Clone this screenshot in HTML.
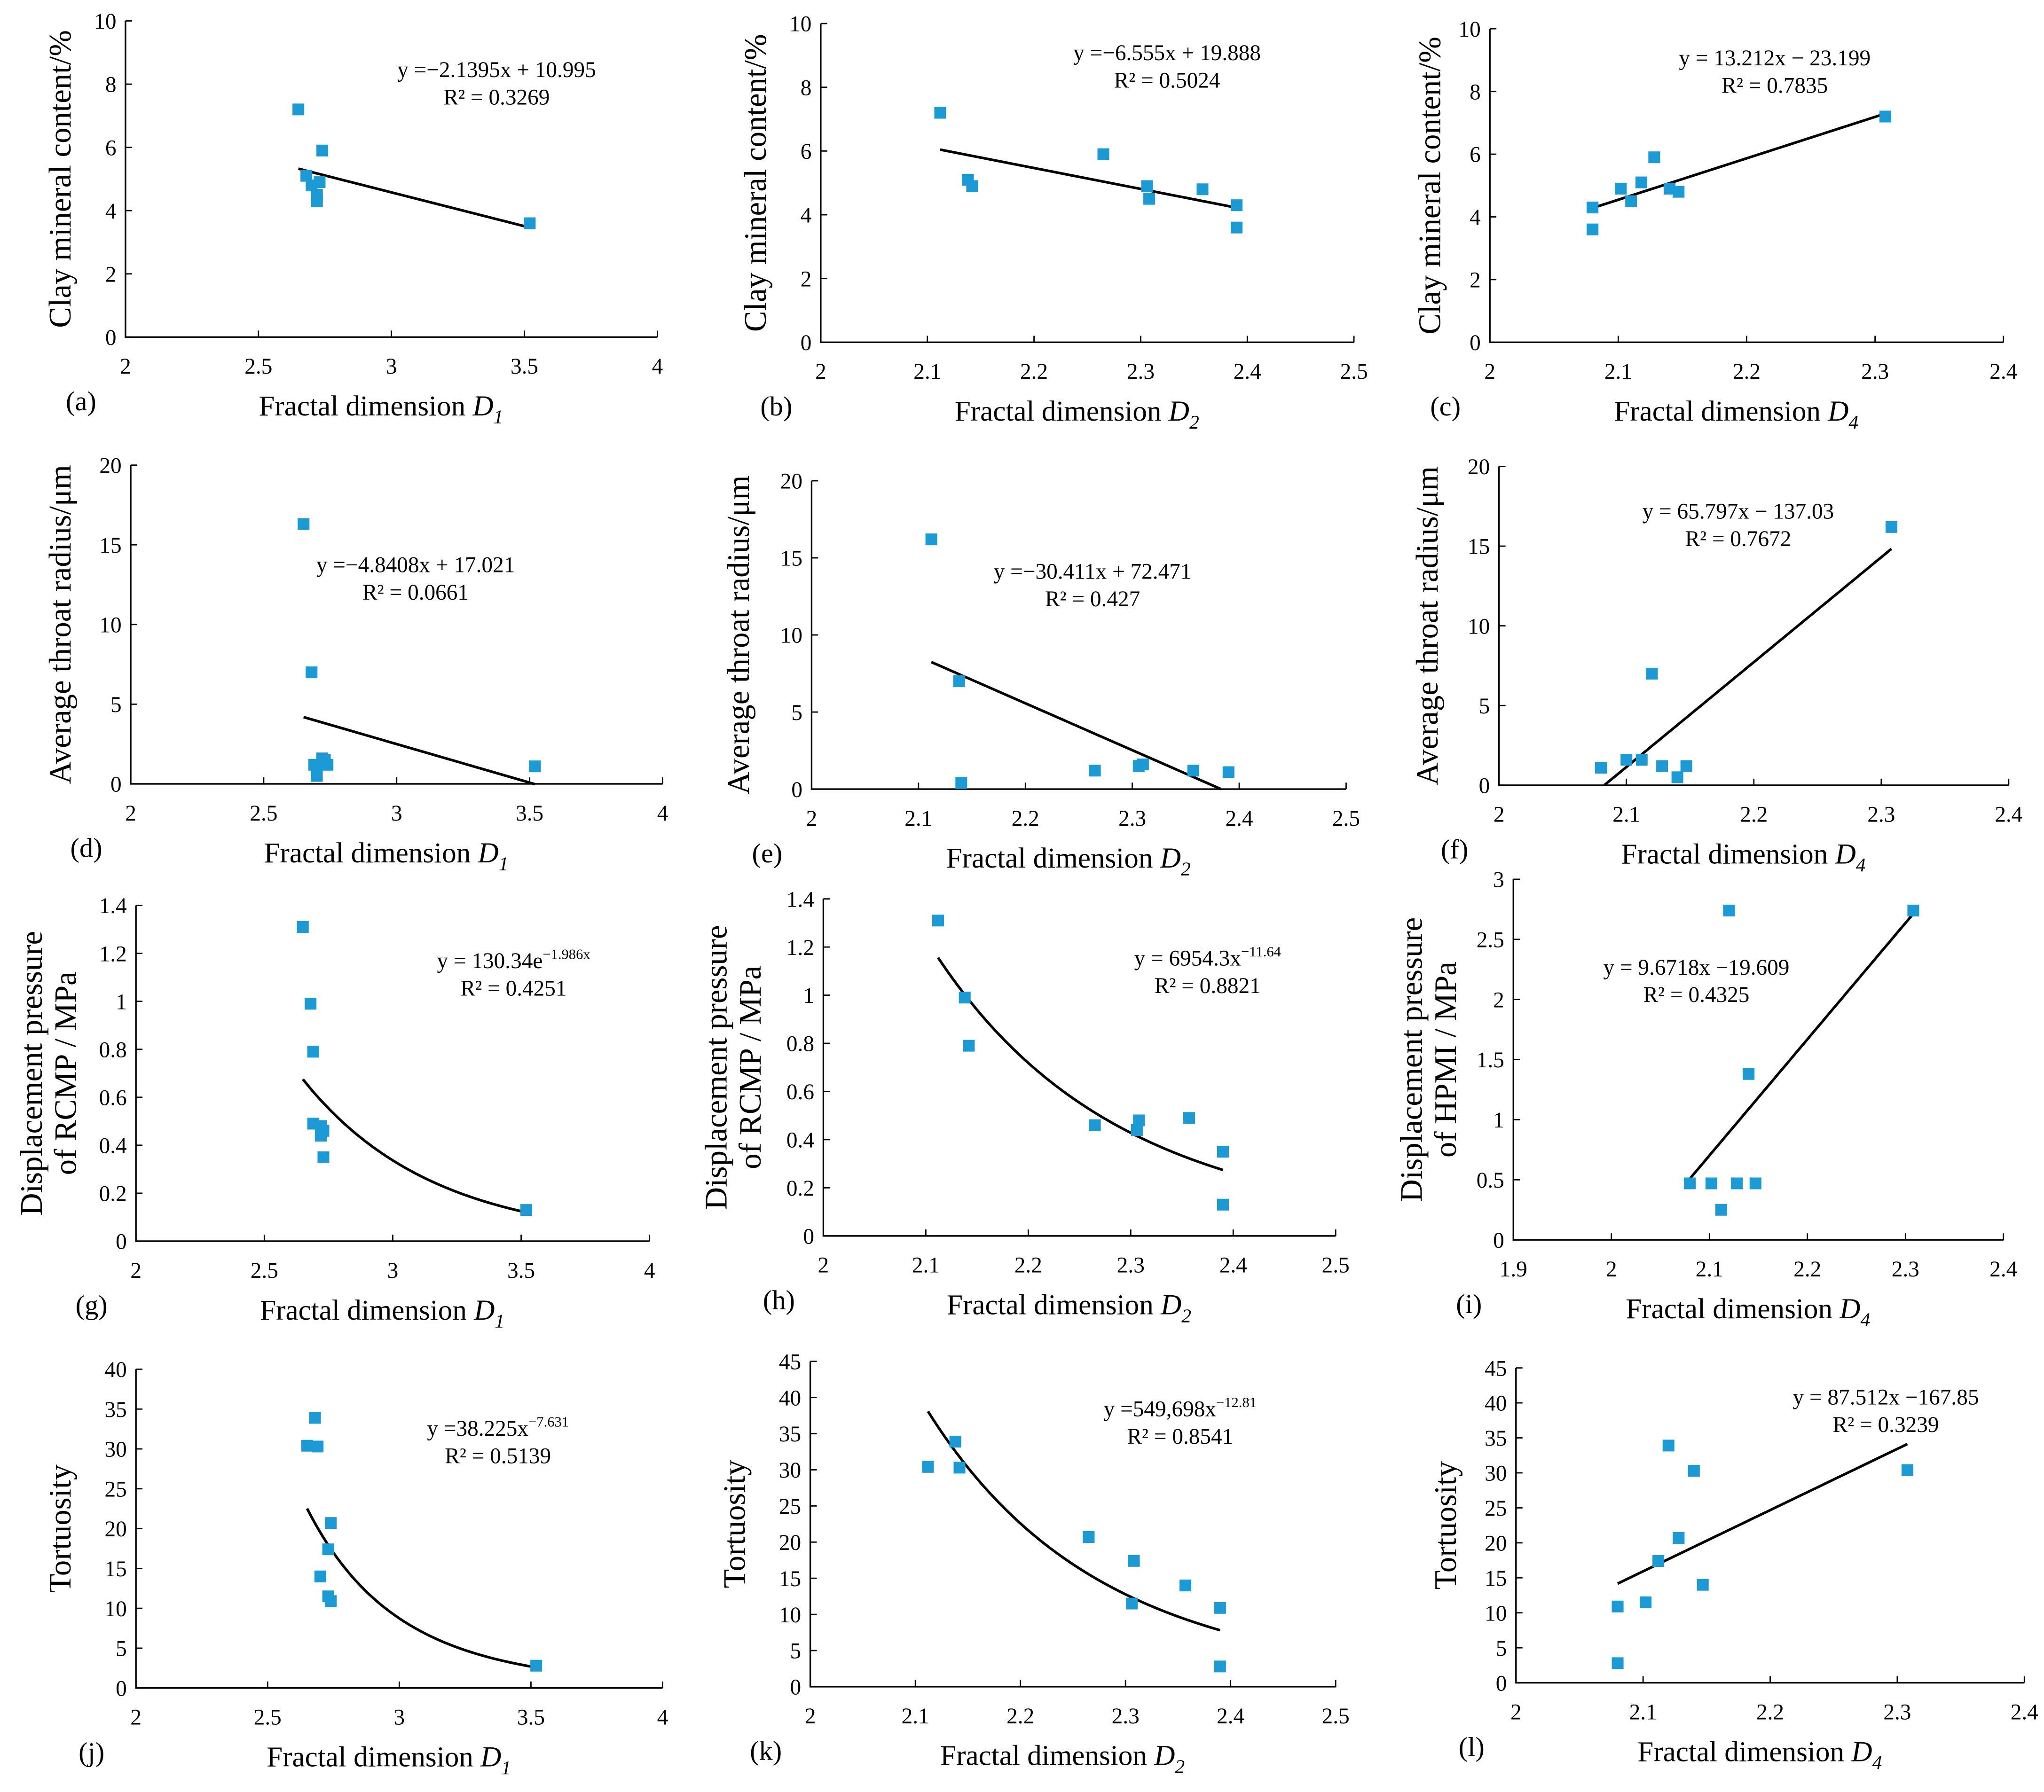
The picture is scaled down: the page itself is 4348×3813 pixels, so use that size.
<!DOCTYPE html>
<html><head><meta charset="utf-8"><style>
html,body{margin:0;padding:0;background:#fff}
svg{display:block}
svg text{font-family:"Liberation Serif","Times New Roman",serif;fill:#000}
</style></head><body>
<svg id="fig" xmlns="http://www.w3.org/2000/svg" width="4348" height="3813" viewBox="0 0 1564 1371.6" font-family="Liberation Serif, serif"></svg>
<script>
// ---- data arrays ----
const aX=[2.65,2.68,2.70,2.73,2.72,2.72,2.74,3.52];
const aY=[7.2,5.1,4.8,4.9,4.5,4.3,5.9,3.6];
const bX=[2.112,2.138,2.142,2.265,2.306,2.308,2.358,2.39,2.39];
const bY=[7.2,5.1,4.9,5.9,4.9,4.5,4.8,4.3,3.6];
const cX=[2.08,2.08,2.102,2.11,2.118,2.128,2.14,2.147,2.308];
const cY=[4.3,3.6,4.9,4.5,5.1,5.9,4.9,4.8,7.2];
const dX=[2.65,2.68,2.69,2.70,2.70,2.72,2.74,2.73,3.52];
const dY=[16.3,7.0,1.2,0.5,0.8,1.6,1.2,1.5,1.1];
const eX=[2.112,2.138,2.14,2.265,2.306,2.31,2.357,2.39];
const eY=[16.2,7.0,0.4,1.2,1.5,1.6,1.2,1.1];
const fX=[2.08,2.10,2.112,2.12,2.128,2.14,2.147,2.308];
const fY=[1.1,1.6,1.6,7.0,1.2,0.5,1.2,16.2];
const gX=[2.65,2.68,2.69,2.69,2.72,2.73,2.72,2.73,3.52];
const gY=[1.31,0.99,0.79,0.49,0.48,0.46,0.44,0.35,0.13];
const hX=[2.112,2.138,2.142,2.265,2.306,2.308,2.357,2.39,2.39];
const hY=[1.31,0.99,0.79,0.46,0.44,0.48,0.49,0.35,0.13];
const iX=[2.08,2.102,2.112,2.12,2.128,2.14,2.147,2.308];
const iY=[0.47,0.47,0.25,2.74,0.47,1.38,0.47,2.74];
const jX=[2.65,2.69,2.68,2.74,2.73,2.70,2.73,2.74,3.52];
const jY=[30.4,30.3,33.9,20.7,17.4,14.0,11.5,10.9,2.8];
const kX=[2.112,2.138,2.142,2.265,2.306,2.308,2.357,2.39,2.39];
const kY=[30.4,33.9,30.3,20.7,11.5,17.4,14.0,10.9,2.8];
const lX=[2.08,2.08,2.102,2.112,2.12,2.128,2.14,2.147,2.308];
const lY=[10.9,2.8,11.5,17.4,33.9,20.7,30.3,14.0,30.4];
const xTicksD1=["2","2.5","3","3.5","4"];
const xTicksD2=["2","2.1","2.2","2.3","2.4","2.5"];
const xTicksD4=["2","2.1","2.2","2.3","2.4"];
const xTicksD4i=["1.9","2","2.1","2.2","2.3","2.4"];
const yTicksClay=["0","2","4","6","8","10"];
const yTicksRad=["0","5","10","15","20"];
const yTicksP=["0","0.2","0.4","0.6","0.8","1","1.2","1.4"];
const yTicksP3=["0","0.5","1","1.5","2","2.5","3"];
const yTicksT40=["0","5","10","15","20","25","30","35","40"];
const yTicksT45=["0","5","10","15","20","25","30","35","40","45"];

// ---- layout (pixel geometry, not data) ----
const panels=[
 {id:'a',xs:aX,ys:aY,xt:xTicksD1,yt:yTicksClay,L:96,R:503,T:16,B:258,sub:'1',fit:x=>-2.1395*x+10.995,eq:['y =−2.1395x + 10.995','R² = 0.3269'],ex:380,ey:53,yl:['Clay mineral content/%'],ylx:[46]},
 {id:'b',xs:bX,ys:bY,xt:xTicksD2,yt:yTicksClay,L:628,R:1036,T:18,B:262,sub:'2',fit:x=>-6.555*x+19.888,eq:['y =−6.555x + 19.888','R² = 0.5024'],ex:893,ey:40,yl:['Clay mineral content/%'],ylx:[578]},
 {id:'c',xs:cX,ys:cY,xt:xTicksD4,yt:yTicksClay,L:1140,R:1533,T:22,B:262,sub:'4',fit:x=>13.212*x-23.199,eq:['y = 13.212x − 23.199','R² = 0.7835'],ex:1358,ey:44,yl:['Clay mineral content/%'],ylx:[1094]},
 {id:'d',xs:dX,ys:dY,xt:xTicksD1,yt:yTicksRad,L:100,R:507,T:356,B:600,sub:'1',fit:x=>-4.8408*x+17.021,eq:['y =−4.8408x + 17.021','R² = 0.0661'],ex:318,ey:432,yl:['Average throat radius/μm'],ylx:[46]},
 {id:'e',xs:eX,ys:eY,xt:xTicksD2,yt:yTicksRad,L:621,R:1030,T:368,B:604,sub:'2',fit:x=>-30.411*x+72.471,eq:['y =−30.411x + 72.471','R² = 0.427'],ex:836,ey:437,yl:['Average throat radius/μm'],ylx:[565],fx1:2.383},
 {id:'f',xs:fX,ys:fY,xt:xTicksD4,yt:yTicksRad,L:1147,R:1537,T:357,B:601,sub:'4',fit:x=>65.797*x-137.03,eq:['y = 65.797x − 137.03','R² = 0.7672'],ex:1330,ey:391,yl:['Average throat radius/μm'],ylx:[1092],fx0:2.0827},
 {id:'g',xs:gX,ys:gY,xt:xTicksD1,yt:yTicksP,L:104,R:497,T:693,B:950,sub:'1',fit:x=>130.34*Math.exp(-1.986*x),eq:['y = 130.34e','R² = 0.4251'],sup:'−1.986x',ex:393,ey:735,yl:['Displacement pressure','of  RCMP / MPa'],ylx:[24,50]},
 {id:'h',xs:hX,ys:hY,xt:xTicksD2,yt:yTicksP,L:630,R:1022,T:688,B:946,sub:'2',fit:x=>6954.3*Math.pow(x,-11.64),eq:['y = 6954.3x','R² = 0.8821'],sup:'−11.64',ex:924,ey:733,yl:['Displacement pressure','of  RCMP / MPa'],ylx:[548,574]},
 {id:'i',xs:iX,ys:iY,xt:xTicksD4i,yt:yTicksP3,L:1158,R:1533,T:673,B:949,sub:'4',fit:x=>9.6718*x-19.609,eq:['y = 9.6718x −19.609','R² = 0.4325'],ex:1298,ey:740,yl:['Displacement pressure','of  HPMI / MPa'],ylx:[1080,1106]},
 {id:'j',xs:jX,ys:jY,xt:xTicksD1,yt:yTicksT40,L:104,R:507,T:1048,B:1292,sub:'1',fit:x=>38225*Math.pow(x,-7.631),eq:['y =38.225x','R² = 0.5139'],sup:'−7.631',ex:381,ey:1093,yl:['Tortuosity'],ylx:[46]},
 {id:'k',xs:kX,ys:kY,xt:xTicksD2,yt:yTicksT45,L:620,R:1022,T:1042,B:1291,sub:'2',fit:x=>549698*Math.pow(x,-12.81),eq:['y =549,698x','R² = 0.8541'],sup:'−12.81',ex:903,ey:1078,yl:['Tortuosity'],ylx:[562]},
 {id:'l',xs:lX,ys:lY,xt:xTicksD4,yt:yTicksT45,L:1160,R:1549,T:1047,B:1288,sub:'4',fit:x=>87.512*x-167.85,eq:['y = 87.512x −167.85','R² = 0.3239'],ex:1443,ey:1069,yl:['Tortuosity'],ylx:[1106]}
];
const NS='http://www.w3.org/2000/svg';
const svg=document.getElementById('fig');
function mk(tag,attrs,parent,txt){const e=document.createElementNS(NS,tag);for(const k in attrs)e.setAttribute(k,attrs[k]);if(txt!==undefined)e.textContent=txt;parent.appendChild(e);return e;}
panels.forEach(p=>{
 const g=mk('g',{},svg);
 
 
 const x0=+p.xt[0],x1=+p.xt[p.xt.length-1],y0=+p.yt[0],y1=+p.yt[p.yt.length-1];
 const sx=v=>p.L+(v-x0)/(x1-x0)*(p.R-p.L);
 const sy=v=>p.B-(v-y0)/(y1-y0)*(p.B-p.T);
 const ax=mk('path',{d:`M${p.L},${p.T}V${p.B}H${p.R}`,fill:'none',stroke:'#000','stroke-width':1.2},g);
 
 
 p.yt.forEach(t=>{const y=sy(+t);mk('line',{x1:p.L,x2:p.L+5,y1:y,y2:y,stroke:'#000','stroke-width':1},g);
  const tl=mk('text',{x:p.L-7,y:y+6,'text-anchor':'end','font-size':17},g,t);
  
  });
 p.xt.forEach(t=>{const x=sx(+t);mk('line',{x1:x,x2:x,y1:p.B,y2:p.B-5,stroke:'#000','stroke-width':1},g);
  const tl=mk('text',{x:x,y:p.B+28,'text-anchor':'middle','font-size':17},g,t);
  
  });
 const fa=p.fx0!==undefined?p.fx0:Math.min(...p.xs), fb=p.fx1!==undefined?p.fx1:Math.max(...p.xs);
 let d='';for(let i=0;i<=60;i++){const x=fa+(fb-fa)*i/60;d+=(i?'L':'M')+sx(x).toFixed(2)+','+sy(p.fit(x)).toFixed(2);}
 const fl=mk('path',{d:d,fill:'none',stroke:'#000','stroke-width':2},g);
 
 
 p.xs.forEach((v,i)=>{const r=mk('rect',{x:sx(v)-4.5,y:sy(p.ys[i])-4.5,width:9,height:9,fill:'#1b9ad6'},g);
  
  });
 const e1=mk('text',{x:p.ex,y:p.ey+6,'text-anchor':'middle','font-size':17},g);
 e1.textContent=p.eq[0];
 if(p.sup){mk('tspan',{'font-size':11,dy:-7},e1,p.sup);}
 
 
 const e2=mk('text',{x:p.ex,y:p.ey+27,'text-anchor':'middle','font-size':17},g,p.eq[1]);
 
 
 p.yl.forEach((s,i)=>{const cy=(p.T+p.B)/2;const yt=mk('text',{x:p.ylx[i],y:cy,'text-anchor':'middle','font-size':24,transform:`rotate(-90 ${p.ylx[i]} ${cy})`,dy:8},g,s);
  
  });
 const xt=mk('text',{x:(p.L+p.R)/2-8,y:p.B+60,'text-anchor':'middle','font-size':22},g,'Fractal dimension ');
 mk('tspan',{'font-style':'italic'},xt,'D');
 mk('tspan',{'font-style':'italic','font-size':15,dy:6},xt,p.sub);
 
 
 const pl=mk('text',{x:p.L-34,y:p.B+56,'text-anchor':'middle','font-size':21},g,'('+p.id+')');
 
 
});
</script>
</body></html>
